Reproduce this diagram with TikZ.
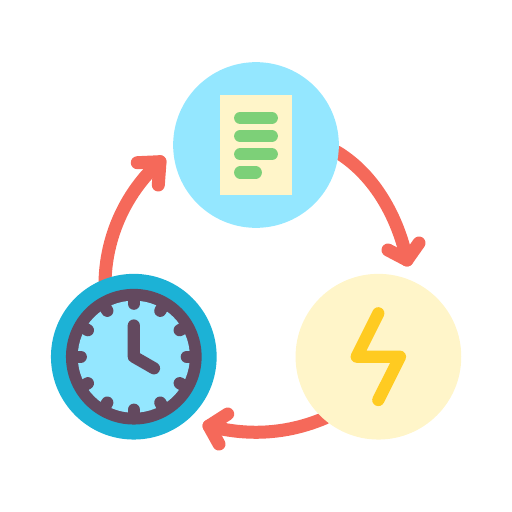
\documentclass[tikz,border=0pt]{standalone}
\usetikzlibrary{calc}
\definecolor{arrowred}{HTML}{F5695A}
\definecolor{skyblue}{HTML}{94E7FF}
\definecolor{cream}{HTML}{FFF5C9}
\definecolor{teal}{HTML}{1CB2D6}
\definecolor{plum}{HTML}{63495F}
\definecolor{boltyellow}{HTML}{FFCB21}
\definecolor{barGreen}{HTML}{7DD078}
\tikzset{
  disc/.style={circle,inner sep=0pt,outer sep=0pt,minimum size=1.656cm,fill=#1},
  arrowline/.style={draw=arrowred,line width=1.3mm,line cap=round,line join=round},
  barline/.style={draw=barGreen,line width=1.22mm,line cap=round},
  handline/.style={draw=plum,line width=1.22mm,line cap=round,line join=round},
  boltline/.style={draw=boltyellow,line width=1.22mm,line cap=round,line join=round},
}
\begin{document}
\begin{tikzpicture}[x=0.01cm,y=-0.01cm]
\useasboundingbox (0,0) rectangle (512,512);
% arrow end points
\coordinate (aS) at (337,152);
\coordinate (aE) at (407,260);
\coordinate (aL) at (388,250);
\coordinate (aR) at (419,243);
\coordinate (bS) at (325,418);
\coordinate (bE) at (209,426);
\coordinate (bL) at (227.7,414);
\coordinate (bR) at (219,444);
\coordinate (cS) at (105,285);
\coordinate (cE) at (160,161.7);
\coordinate (cL) at (137.3,162.7);
\coordinate (cR) at (158.3,185);
% arrows
\draw[arrowline] (aS) .. controls (375,175) and (398,218) .. (aE);
\draw[arrowline] (aL) -- (aE) -- (aR);
\draw[arrowline] (bS) .. controls (290,433) and (250,437) .. (bE);
\draw[arrowline] (bL) -- (bE) -- (bR);
\draw[arrowline] (cS) .. controls (105,235) and (128,190) .. (cE);
\draw[arrowline] (cL) -- (cE) -- (cR);
% document disc
\node[disc=skyblue] (docdisc) at (256,145) {};
\node[fill=cream,inner sep=0pt,minimum width=0.72cm,minimum height=0.997cm] (page) at (256,145.2) {};
\draw[barline] (240.2,117.9) -- (271.8,117.9);
\draw[barline] (240.2,136.1) -- (271.8,136.1);
\draw[barline] (240.2,154.3) -- (271.8,154.3);
\draw[barline] (240.2,172.5) -- (255.8,172.5);
% energy disc
\node[disc=cream] (energy) at (378.4,356.7) {};
\draw[boltline] (378.3,313.3) -- (356.7,356.7) -- (400,356.7) -- (378.3,400);
% clock
\node[disc=teal] (rim) at (133.8,356.7) {};
\node[disc=plum,minimum size=1.356cm] (bezel) at (rim) {};
\node[disc=skyblue,minimum size=1.12cm] (face) at (rim) {};
\foreach \a in {0,30,...,330}
  \draw[handline] ($(rim)+(\a:60)$) -- ($(rim)+(\a:53)$);
\coordinate (handtop) at (133.8,325.5);
\coordinate (handtip) at (154,368.3);
\draw[handline] (handtop) -- (rim.center) -- (handtip);
\end{tikzpicture}
\end{document}
